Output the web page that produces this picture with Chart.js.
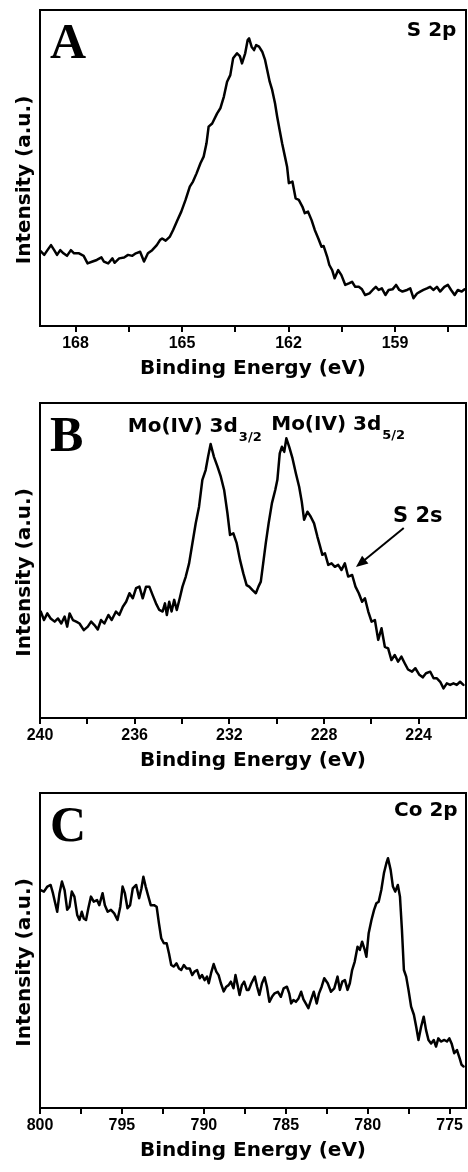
<!DOCTYPE html>
<html>
<head>
<meta charset="utf-8">
<script src="https://cdn.jsdelivr.net/npm/chart.js@4.4.0/dist/chart.umd.min.js"></script>
<style>
  body { margin: 0; background: #fff; }
  .panel { position: absolute; left: 0; width: 468px; }
  canvas { display: block; }
</style>
</head>
<body>
<div class="panel" style="top:0px"><canvas id="chartA" width="468" height="390"></canvas></div>
<div class="panel" style="top:390px"><canvas id="chartB" width="468" height="390"></canvas></div>
<div class="panel" style="top:780px"><canvas id="chartC" width="468" height="392"></canvas></div>
<script>
// ---- panel A : S 2p ----
var energyA = [168.99,168.88,168.79,168.69,168.60,168.52,168.43,168.34,168.24,168.13,168.04,167.90,167.77,167.66,167.52,167.40,167.27,167.20,167.08,166.96,166.90,166.77,166.63,166.52,166.40,166.30,166.18,166.07,165.96,165.84,165.71,165.62,165.56,165.46,165.34,165.25,165.13,165.02,164.90,164.78,164.69,164.59,164.48,164.39,164.31,164.25,164.15,164.01,163.92,163.82,163.73,163.64,163.56,163.45,163.37,163.31,163.22,163.15,
  163.11,163.04,162.97,162.91,162.83,162.74,162.66,162.60,162.53,162.46,162.38,162.32,162.25,162.18,162.10,162.04,161.99,161.89,161.80,161.71,161.61,161.54,161.45,161.35,161.26,161.16,161.07,161.01,160.91,160.85,160.77,160.70,160.60,160.51,160.40,160.30,160.21,160.12,160.02,159.93,159.84,159.72,159.63,159.54,159.46,159.37,159.27,159.18,159.07,158.97,158.88,158.79,158.66,158.57,158.48,158.38,158.29,158.20,158.10,158.01,157.92,157.82,157.73,157.61,157.51,157.42,157.32,157.23,157.12,157.04];
var intensityA = [23.8,22.5,24.0,25.6,24.0,22.5,24.0,23.0,22.2,24.0,23.0,23.0,22.2,19.8,20.4,20.9,21.7,20.4,19.8,21.4,20.0,21.4,21.7,22.5,22.2,23.0,23.5,20.4,23.0,24.0,25.6,27.2,27.7,27.0,28.3,30.4,33.5,36.2,39.9,44.1,45.7,48.3,51.5,53.6,57.8,63.1,64.1,67.3,68.9,72.6,77.3,79.4,84.7,86.3,85.4,83.1,86.3,90.5,
  91.0,88.4,87.3,88.9,88.4,86.8,84.2,81.0,77.3,74.7,70.5,66.3,62.0,57.8,53.6,50.4,45.2,45.7,40.4,39.9,37.8,35.7,36.2,33.5,30.4,27.7,25.1,25.3,21.9,19.3,17.7,15.1,17.7,16.1,13.0,13.5,14.0,12.4,12.4,11.6,9.8,10.3,11.4,12.4,11.4,11.9,9.8,11.4,11.6,13.0,11.4,10.9,11.4,11.9,8.8,10.3,10.9,11.4,11.9,12.4,11.4,12.4,10.9,12.4,13.0,11.4,9.8,11.4,10.9,11.6];
var majorTicksA = [168, 165, 162, 159];
var minorTicksA = [166.5, 163.5, 160.5, 157.5];

// ---- panel B : Mo 3d / S 2s ----
var energyB = [239.97,239.83,239.69,239.55,239.38,239.24,239.10,238.96,238.85,238.75,238.61,238.47,238.33,238.15,237.98,237.84,237.70,237.56,237.42,237.28,237.11,236.97,236.79,236.65,236.50,236.36,236.22,236.08,235.94,235.80,235.66,235.52,235.38,235.24,235.10,234.96,234.82,234.72,234.64,234.54,234.44,234.33,234.22,234.08,233.98,233.84,233.70,233.56,233.42,233.28,233.14,233.00,232.90,232.79,232.65,232.50,232.36,232.22,232.08,231.97,231.83,231.69,231.55,231.41,231.27,
  231.16,231.02,230.88,230.77,230.67,230.57,230.46,230.34,230.20,230.06,229.97,229.87,229.78,229.68,229.59,229.47,229.33,229.19,229.05,228.94,228.84,228.70,228.56,228.42,228.28,228.18,228.07,227.96,227.82,227.68,227.54,227.40,227.26,227.12,226.98,226.81,226.67,226.53,226.39,226.27,226.13,225.99,225.85,225.71,225.57,225.43,225.29,225.15,225.01,224.87,224.73,224.59,224.45,224.28,224.14,223.97,223.83,223.69,223.51,223.37,223.23,223.09,222.95,222.81,222.67,222.53,222.39,222.25,222.11];
var intensityB = [33.8,31.1,33.2,31.6,30.6,31.6,30.0,32.2,29.0,33.2,31.1,30.6,30.0,27.9,29.0,30.6,29.5,28.1,31.1,30.0,32.7,31.1,33.8,32.7,35.3,36.9,39.6,38.0,41.2,41.7,38.0,41.7,41.7,39.0,36.4,34.3,33.8,36.4,32.7,36.9,33.8,37.5,34.3,38.5,41.7,44.9,49.1,55.5,61.8,67.1,75.6,78.7,82.9,87.0,82.9,79.8,76.6,72.4,65.0,58.1,58.6,55.5,50.2,45.9,42.2,
  41.7,40.6,39.6,41.7,43.3,49.1,55.5,61.8,68.2,72.4,75.6,84.0,86.1,84.5,88.8,86.1,82.4,77.7,73.4,68.7,62.9,65.5,63.9,61.8,57.6,54.9,51.8,52.3,48.6,49.1,48.0,48.6,47.0,49.1,44.9,45.4,41.7,39.6,36.9,38.0,33.8,30.6,31.1,24.8,28.5,22.6,22.1,18.4,20.0,17.9,19.5,17.4,15.4,14.7,15.8,13.7,12.9,14.2,14.7,12.6,12.6,11.5,9.4,11.0,10.5,11.0,10.5,11.5,10.5];
var majorTicksB = [240, 236, 232, 228, 224];
var minorTicksB = [238, 234, 230, 226];

// ---- panel C : Co 2p ----
var energyC = [799.96,799.76,799.55,799.35,799.21,799.07,798.95,798.81,798.66,798.50,798.34,798.20,798.06,797.90,797.73,797.59,797.45,797.33,797.19,797.05,796.89,796.72,796.52,796.38,796.18,796.04,795.87,795.67,795.47,795.27,795.10,794.96,794.82,794.66,794.50,794.34,794.13,793.95,793.81,793.69,793.55,793.41,793.24,793.04,792.88,792.74,792.60,792.44,792.27,792.13,791.99,791.83,791.67,791.52,791.38,791.22,791.06,790.86,790.71,790.57,790.41,790.25,790.11,789.95,789.81,789.70,789.56,789.40,789.24,789.10,788.96,788.79,788.63,788.49,788.35,788.19,788.07,787.92,787.82,787.68,787.54,787.38,
  787.26,787.10,786.89,786.75,786.61,786.45,786.29,786.15,786.00,785.84,785.68,785.48,785.30,785.13,784.93,784.79,784.67,784.53,784.38,784.22,784.06,783.92,783.78,783.62,783.46,783.29,783.11,782.97,782.81,782.65,782.44,782.24,782.04,781.84,781.70,781.55,781.39,781.23,781.09,780.95,780.79,780.62,780.48,780.34,780.18,780.08,779.94,779.77,779.61,779.47,779.33,779.17,779.01,778.86,778.76,778.60,778.46,778.32,778.16,778.03,777.91,777.79,777.65,777.51,777.35,777.18,777.04,776.90,776.74,776.58,776.44,776.29,776.13,775.97,775.83,775.69,775.53,775.32,775.16,775.02,774.88,774.72,774.55,774.39,774.27,774.15];
var intensityC = [69.2,68.7,70.3,70.8,68.2,65.0,62.3,68.2,71.9,69.2,62.9,63.9,68.7,67.1,61.3,59.7,62.3,60.2,59.7,63.4,67.1,65.5,66.0,64.4,68.2,64.4,62.3,62.9,61.8,59.7,63.9,70.3,68.2,63.4,64.4,69.7,70.8,66.6,69.7,73.4,70.3,67.6,64.4,64.4,63.9,58.6,53.9,52.3,52.3,49.1,45.4,44.9,45.9,44.3,43.8,45.4,44.3,44.3,42.2,43.3,43.8,41.2,42.2,40.6,41.7,39.6,42.8,45.7,43.3,42.2,39.6,37.0,38.5,39.0,40.1,38.0,42.2,38.5,35.9,39.0,40.1,37.5,
  37.5,39.6,41.7,38.5,35.9,39.6,41.5,38.5,33.7,35.3,36.4,36.9,35.3,38.0,38.5,36.4,33.2,34.3,33.7,34.8,36.9,34.5,33.2,31.7,34.3,36.9,33.2,36.4,38.5,41.2,39.6,36.9,38.0,41.7,37.5,40.1,40.6,37.5,39.6,43.8,46.5,51.2,50.2,52.8,50.2,48.0,55.5,59.7,62.9,65.0,65.5,69.2,74.5,77.7,79.3,75.6,70.3,68.7,70.8,67.1,56.5,43.8,41.7,37.5,32.2,29.6,25.8,21.6,25.8,29.0,24.8,21.6,20.5,21.6,19.5,22.1,21.1,21.6,21.1,22.1,20.5,17.4,18.4,15.8,13.7,13.2];
var majorTicksC = [800, 795, 790, 785, 780, 775];
var minorTicksC = [797.5, 792.5, 787.5, 782.5, 777.5];

var titleFont = '"DejaVu Sans", sans-serif';
var tickFont = '"Liberation Sans", Arial, sans-serif';

// frame, panel letter, y title and peak labels
var decorPlugin = {
  id: 'decor',
  afterDraw: function(chart, args, opts) {
    var ctx = chart.ctx;
    var a = chart.chartArea;
    var xs = chart.scales.x, ys = chart.scales.y;
    ctx.save();
    ctx.strokeStyle = '#000';
    ctx.lineWidth = 2;
    ctx.strokeRect(a.left, a.top, a.right - a.left, a.bottom - a.top);

    ctx.fillStyle = '#000';
    ctx.textBaseline = 'alphabetic';
    ctx.textAlign = 'left';
    ctx.font = 'bold 50px "Liberation Serif", "Times New Roman", serif';
    ctx.fillText(opts.letter, a.left + 10, a.top + 48);

    ctx.save();
    ctx.translate(25, (a.top + a.bottom) / 2 + 12);
    ctx.rotate(-Math.PI / 2);
    ctx.textAlign = 'center';
    ctx.textBaseline = 'middle';
    ctx.font = 'bold 20px ' + titleFont;
    ctx.fillText('Intensity (a.u.)', 0, 0);
    ctx.restore();

    (opts.labels || []).forEach(function(l) {
      var px = xs.getPixelForValue(l.x);
      var py = ys.getPixelForValue(l.y);
      ctx.font = 'bold ' + l.size + 'px ' + titleFont;
      ctx.textAlign = l.align;
      ctx.fillText(l.text, px, py);
      if (l.sub) {
        var w = ctx.measureText(l.text).width;
        ctx.font = 'bold 13px ' + titleFont;
        ctx.textAlign = 'left';
        ctx.fillText(l.sub, px + w + 1, py + 9);
      }
    });

    if (opts.arrow) {
      var x1 = xs.getPixelForValue(opts.arrow.from[0]), y1 = ys.getPixelForValue(opts.arrow.from[1]);
      var x2 = xs.getPixelForValue(opts.arrow.to[0]), y2 = ys.getPixelForValue(opts.arrow.to[1]);
      var ang = Math.atan2(y2 - y1, x2 - x1);
      ctx.lineWidth = 2;
      ctx.beginPath();
      ctx.moveTo(x1, y1);
      ctx.lineTo(x2 - 8 * Math.cos(ang), y2 - 8 * Math.sin(ang));
      ctx.stroke();
      ctx.beginPath();
      ctx.moveTo(x2, y2);
      ctx.lineTo(x2 - 12 * Math.cos(ang) + 5 * Math.sin(ang), y2 - 12 * Math.sin(ang) - 5 * Math.cos(ang));
      ctx.lineTo(x2 - 12 * Math.cos(ang) - 5 * Math.sin(ang), y2 - 12 * Math.sin(ang) + 5 * Math.cos(ang));
      ctx.closePath();
      ctx.fill();
    }
    ctx.restore();
  }
};

function makeChart(id, energy, intensity, xmin, xmax, majors, minors, padTop, padBottom, decor) {
  var points = energy.map(function(e, i) { return { x: e, y: intensity[i] }; });
  var allTicks = majors.concat(minors).sort(function(p, q) { return q - p; });
  return new Chart(document.getElementById(id), {
    type: 'line',
    data: {
      datasets: [{
        data: points,
        borderColor: '#000',
        borderWidth: 2.5,
        borderJoinStyle: 'round',
        borderCapStyle: 'round',
        pointRadius: 0,
        fill: false,
        tension: 0
      }]
    },
    options: {
      responsive: false,
      animation: false,
      devicePixelRatio: 1,
      layout: { padding: { left: 40, right: 2, top: padTop, bottom: padBottom } },
      plugins: {
        legend: { display: false },
        tooltip: { enabled: false },
        decor: decor
      },
      scales: {
        x: {
          type: 'linear',
          min: xmin,
          max: xmax,
          reverse: true,
          afterBuildTicks: function(scale) {
            scale.ticks = allTicks.map(function(v) { return { value: v }; });
          },
          afterFit: function(scale) { scale.height = 60; },
          grid: { drawOnChartArea: false, drawTicks: true, tickLength: 6, lineWidth: 2, color: '#000' },
          border: { display: false },
          ticks: {
            autoSkip: false,
            maxRotation: 0,
            padding: 2,
            color: '#000',
            font: { family: tickFont, size: 16, weight: 'bold' },
            callback: function(v) { return majors.indexOf(v) >= 0 ? String(v) : ''; }
          },
          title: {
            display: true,
            text: 'Binding Energy (eV)',
            color: '#000',
            font: { family: titleFont, size: 20, weight: 'bold' },
            padding: { top: 0, bottom: 5 }
          }
        },
        y: {
          display: false,
          min: 0,
          max: 100
        }
      }
    },
    plugins: [decorPlugin]
  });
}

makeChart('chartA', energyA, intensityA, 157, 169, majorTicksA, minorTicksA, 10, 4, {
  letter: 'A',
  labels: [{ text: 'S 2p', x: 157.27, y: 91.8, size: 20, align: 'right' }]
});

makeChart('chartB', energyB, intensityB, 222, 240, majorTicksB, minorTicksB, 13, 2, {
  letter: 'B',
  labels: [
    { text: 'Mo(IV) 3d', sub: '3/2', x: 236.29, y: 90.8, size: 20, align: 'left' },
    { text: 'Mo(IV) 3d', sub: '5/2', x: 230.23, y: 91.4, size: 20, align: 'left' },
    { text: 'S 2s', x: 224.04, y: 62.2, size: 21, align: 'center' }
  ],
  arrow: { from: [224.63, 60.3], to: [226.65, 47.9] }
});

makeChart('chartC', energyC, intensityC, 774, 800, majorTicksC, minorTicksC, 13, 4, {
  letter: 'C',
  labels: [{ text: 'Co 2p', x: 774.51, y: 92.7, size: 20, align: 'right' }]
});
</script>
</body>
</html>
